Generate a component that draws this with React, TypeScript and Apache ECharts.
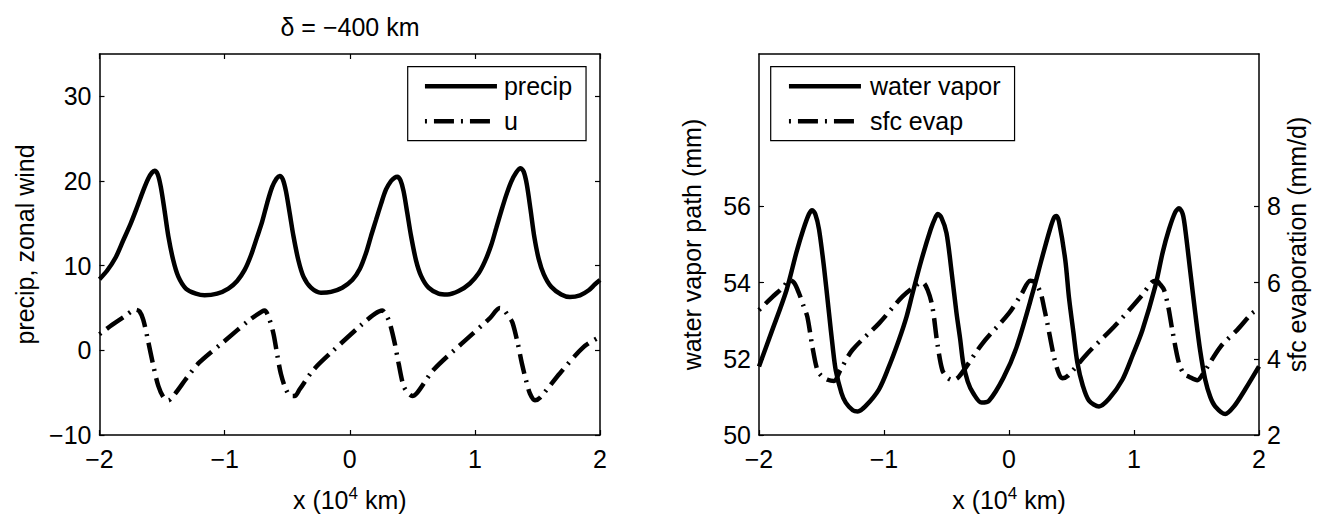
import React, { useEffect, useRef } from "react";
import * as echarts from "echarts";

const FONT = "'Liberation Sans', Arial, Helvetica, sans-serif";

const titleText = "δ = −400 km";
const xTicks = [-2, -1, 0, 1, 2];
const leftYTicks = [-10, 0, 10, 20, 30];
const vaporTicks = [50, 52, 54, 56];
const evapTicks = [2, 4, 6, 8];

const precip: [number, number][] = [
  [-2.0, 8.4], [-1.94, 9.4], [-1.87, 11.0], [-1.81, 13.0], [-1.75, 15.0], [-1.7, 16.9],
  [-1.65, 18.9], [-1.61, 20.3], [-1.58, 21.0], [-1.56, 21.2], [-1.535, 20.8], [-1.51, 19.3],
  [-1.48, 16.5], [-1.45, 13.5], [-1.41, 10.6], [-1.37, 8.7], [-1.31, 7.3], [-1.23, 6.7],
  [-1.16, 6.5], [-1.06, 6.7], [-0.97, 7.3], [-0.9, 8.2], [-0.84, 9.5], [-0.79, 11.2],
  [-0.74, 13.4], [-0.7, 15.2], [-0.66, 17.4], [-0.62, 19.3], [-0.585, 20.3], [-0.56, 20.6],
  [-0.535, 20.2], [-0.51, 18.8], [-0.48, 16.2], [-0.45, 13.5], [-0.41, 10.6], [-0.37, 8.7],
  [-0.31, 7.4], [-0.23, 6.8], [-0.15, 6.9], [-0.06, 7.4], [0.02, 8.3], [0.08, 9.6],
  [0.13, 11.5], [0.17, 13.5], [0.21, 15.4], [0.25, 17.3], [0.29, 19.0], [0.33, 20.0],
  [0.36, 20.4], [0.38, 20.5], [0.405, 20.1], [0.43, 18.8], [0.46, 16.2], [0.49, 13.5],
  [0.53, 10.6], [0.57, 8.8], [0.63, 7.4], [0.71, 6.7], [0.78, 6.6], [0.87, 7.0],
  [0.96, 7.9], [1.03, 9.1], [1.08, 10.5], [1.13, 12.4], [1.17, 14.4], [1.21, 16.4],
  [1.25, 18.3], [1.29, 19.9], [1.33, 21.0], [1.365, 21.5], [1.39, 21.1], [1.415, 19.6],
  [1.445, 16.6], [1.475, 13.4], [1.51, 10.8], [1.55, 9.0], [1.61, 7.5], [1.69, 6.6],
  [1.76, 6.3], [1.84, 6.5], [1.91, 7.1], [1.96, 7.8], [2.0, 8.3],
];

const zonalWind: [number, number][] = [
  [-2.0, 1.9], [-1.9, 3.0], [-1.8, 4.0], [-1.71, 4.8], [-1.68, 4.6], [-1.65, 3.6],
  [-1.61, 1.0], [-1.57, -1.8], [-1.53, -4.2], [-1.49, -5.5], [-1.45, -5.9], [-1.4, -5.2],
  [-1.3, -3.2], [-1.2, -1.4], [-1.0, 1.1], [-0.8, 3.6], [-0.7, 4.6], [-0.68, 4.7],
  [-0.65, 4.0], [-0.61, 2.0], [-0.58, -0.5], [-0.55, -2.8], [-0.51, -4.6], [-0.47, -5.4],
  [-0.44, -5.4], [-0.4, -4.6], [-0.29, -2.3], [-0.13, 0.0], [0.1, 3.1], [0.2, 4.3],
  [0.26, 4.7], [0.29, 4.2], [0.32, 3.2], [0.36, 0.8], [0.39, -1.5], [0.43, -4.2],
  [0.47, -5.1], [0.5, -5.4], [0.54, -5.0], [0.67, -2.3], [0.91, 1.0], [1.12, 3.8],
  [1.2, 5.0], [1.23, 4.8], [1.27, 4.0], [1.3, 3.3], [1.34, 1.0], [1.375, -1.5],
  [1.41, -3.6], [1.44, -5.1], [1.48, -5.9], [1.52, -5.6], [1.68, -2.7], [1.87, 0.4],
  [2.0, 1.6],
];

const waterVapor: [number, number][] = [
  [-2.0, 51.8], [-1.9, 52.7], [-1.78, 53.8], [-1.7, 54.8], [-1.645, 55.4], [-1.6, 55.8],
  [-1.575, 55.9], [-1.55, 55.8], [-1.52, 55.4], [-1.48, 54.4], [-1.44, 53.2], [-1.41, 52.3],
  [-1.386, 51.7], [-1.34, 51.1], [-1.306, 50.85], [-1.25, 50.65], [-1.21, 50.62], [-1.15, 50.75],
  [-1.04, 51.2], [-0.96, 51.8], [-0.88, 52.5], [-0.82, 53.1], [-0.773, 53.7], [-0.7, 54.6],
  [-0.626, 55.4], [-0.59, 55.7], [-0.57, 55.8], [-0.54, 55.7], [-0.5, 55.3], [-0.46, 54.3],
  [-0.42, 53.2], [-0.39, 52.5], [-0.367, 51.9], [-0.33, 51.4], [-0.287, 51.1], [-0.22, 50.85],
  [-0.16, 50.9], [-0.045, 51.5], [0.06, 52.3], [0.195, 53.8], [0.26, 54.6], [0.328, 55.4],
  [0.36, 55.7], [0.38, 55.75], [0.4, 55.6], [0.45, 54.6], [0.48, 53.6], [0.515, 52.7],
  [0.547, 51.9], [0.59, 51.3], [0.64, 50.9], [0.72, 50.75], [0.8, 50.95], [0.907, 51.45],
  [0.99, 52.1], [1.067, 52.75], [1.17, 53.9], [1.23, 54.8], [1.28, 55.4], [1.33, 55.85],
  [1.36, 55.95], [1.39, 55.8], [1.41, 55.4], [1.45, 54.3], [1.49, 53.2], [1.53, 52.2],
  [1.57, 51.45], [1.61, 51.0], [1.65, 50.75], [1.73, 50.55], [1.8, 50.75], [1.89, 51.2],
  [2.0, 51.8],
];

const sfcEvap: [number, number][] = [
  [-2.0, 5.28], [-1.9, 5.6], [-1.8, 5.9], [-1.76, 6.07], [-1.72, 6.0], [-1.68, 5.72],
  [-1.64, 5.35], [-1.613, 5.1], [-1.573, 4.32], [-1.533, 3.7], [-1.5, 3.55], [-1.45, 3.45],
  [-1.4, 3.42], [-1.35, 3.7], [-1.253, 4.23], [-1.04, 4.93], [-0.853, 5.63], [-0.72, 5.98],
  [-0.69, 6.0], [-0.65, 5.8], [-0.613, 5.37], [-0.573, 4.4], [-0.533, 3.7], [-0.49, 3.5],
  [-0.45, 3.44], [-0.4, 3.53], [-0.213, 4.4], [0.0, 5.2], [0.1, 5.7], [0.17, 6.05],
  [0.21, 6.0], [0.254, 5.72], [0.28, 5.35], [0.307, 4.93], [0.36, 4.05], [0.4, 3.6],
  [0.427, 3.49], [0.47, 3.55], [0.627, 4.14], [0.84, 4.84], [1.054, 5.63], [1.146, 6.02],
  [1.18, 6.05], [1.21, 5.95], [1.24, 5.81], [1.275, 5.35], [1.306, 4.76], [1.36, 3.88],
  [1.4, 3.6], [1.44, 3.53], [1.506, 3.44], [1.56, 3.65], [1.693, 4.32], [1.826, 4.76],
  [1.946, 5.2], [2.0, 5.3],
];

const BLACK = "#000";
const LW = 4.5;
const DASHDOT = [20, 7, 2, 7];

const fmt = (v: number) => String(v).replace("-", "\u2212");

const axisLineStyle = { show: true, onZero: false, lineStyle: { color: BLACK, width: 1.5 } };
const tickStyle = (vals: number[] | undefined, show = true) => ({
  show,
  inside: true,
  length: 5,
  lineStyle: { color: BLACK, width: 1.2 },
  ...(vals ? { customValues: vals } : {}),
});
const labelStyle = (vals: number[] | undefined, margin: number, show = true) => ({
  show,
  fontSize: 25,
  color: BLACK,
  fontFamily: FONT,
  margin,
  formatter: fmt,
  ...(vals ? { customValues: vals } : {}),
});

const xName = "{n|x (10}{s|4}{n| km)}";
const xNameStyle = {
  fontSize: 25,
  color: BLACK,
  fontFamily: FONT,
  rich: {
    n: { fontSize: 25, color: BLACK, fontFamily: FONT, lineHeight: 30 },
    s: { fontSize: 17, color: BLACK, fontFamily: FONT, verticalAlign: "top", lineHeight: 22 },
  },
};
const yNameStyle = { fontSize: 25, color: BLACK, fontFamily: FONT };

const legendBase = {
  orient: "vertical",
  itemWidth: 72,
  itemHeight: 20,
  itemGap: 10,
  borderColor: BLACK,
  borderWidth: 1.2,
  borderRadius: 0,
  backgroundColor: "#fff",
  selectedMode: false,
  lineStyle: { width: LW },
  itemStyle: { opacity: 0 },
};

export default function App() {
  const ref = useRef<HTMLDivElement>(null);
  useEffect(() => {
    if (!ref.current) return;
    const chart = echarts.init(ref.current, null, { renderer: "svg" });
    const option: any = {
      animation: false,
      backgroundColor: "#fff",
      textStyle: { fontFamily: FONT, color: BLACK },
      title: {
        text: titleText,
        left: 350,
        top: 14,
        padding: 0,
        textAlign: "center",
        textStyle: { fontSize: 25, fontWeight: "normal", color: BLACK, fontFamily: FONT },
      },
      legend: [
        {
          ...legendBase,
          data: ["precip", "u"],
          left: 407.7,
          top: 66.7,
          padding: [7, 14, 7, 15],
          textStyle: { fontSize: 25, color: BLACK, fontFamily: FONT, padding: [0, 0, 0, 2] },
        },
        {
          ...legendBase,
          data: ["water vapor", "sfc evap"],
          left: 770.7,
          top: 66.7,
          padding: [7, 14, 7, 16],
          textStyle: { fontSize: 25, color: BLACK, fontFamily: FONT, padding: [0, 0, 0, 4] },
        },
      ],
      grid: [
        { left: 99.5, top: 54, width: 500.5, height: 381 },
        { left: 759, top: 54, width: 500, height: 381 },
      ],
      xAxis: [
        {
          gridIndex: 0, type: "value", min: -2, max: 2, interval: 1, position: "bottom",
          axisLine: axisLineStyle, axisTick: tickStyle(xTicks), axisLabel: labelStyle(xTicks, 11),
          splitLine: { show: false },
          name: xName, nameLocation: "middle", nameGap: 50, nameTextStyle: xNameStyle,
        },
        {
          gridIndex: 0, type: "value", min: -2, max: 2, interval: 1, position: "top",
          axisLine: axisLineStyle, axisTick: tickStyle(xTicks), axisLabel: { show: false },
          splitLine: { show: false },
        },
        {
          gridIndex: 1, type: "value", min: -2, max: 2, interval: 1, position: "bottom",
          axisLine: axisLineStyle, axisTick: tickStyle(xTicks), axisLabel: labelStyle(xTicks, 11),
          splitLine: { show: false },
          name: xName, nameLocation: "middle", nameGap: 50, nameTextStyle: xNameStyle,
        },
        {
          gridIndex: 1, type: "value", min: -2, max: 2, interval: 1, position: "top",
          axisLine: axisLineStyle, axisTick: { show: false }, axisLabel: { show: false },
          splitLine: { show: false },
        },
      ],
      yAxis: [
        {
          gridIndex: 0, type: "value", min: -10, max: 35, position: "left",
          axisLine: axisLineStyle, axisTick: tickStyle(leftYTicks), axisLabel: labelStyle(leftYTicks, 8),
          splitLine: { show: false },
          name: "precip, zonal wind", nameLocation: "middle", nameGap: 62, nameTextStyle: yNameStyle,
        },
        {
          gridIndex: 0, type: "value", min: -10, max: 35, position: "right",
          axisLine: axisLineStyle, axisTick: tickStyle(leftYTicks), axisLabel: { show: false },
          splitLine: { show: false },
        },
        {
          gridIndex: 1, type: "value", min: 50, max: 60, position: "left",
          axisLine: axisLineStyle, axisTick: tickStyle(vaporTicks), axisLabel: labelStyle(vaporTicks, 8),
          splitLine: { show: false },
          name: "water vapor path (mm)", nameLocation: "middle", nameGap: 55, nameTextStyle: yNameStyle,
        },
        {
          gridIndex: 1, type: "value", min: 2, max: 12, position: "right",
          axisLine: axisLineStyle, axisTick: tickStyle(evapTicks), axisLabel: labelStyle(evapTicks, 8),
          splitLine: { show: false },
          name: "sfc evaporation (mm/d)", nameLocation: "middle", nameGap: 25, nameTextStyle: yNameStyle,
        },
      ],
      series: [
        {
          name: "precip", type: "line", xAxisIndex: 0, yAxisIndex: 0, data: precip,
          symbol: "none", smooth: 0.3, color: BLACK,
          lineStyle: { color: BLACK, width: LW },
        },
        {
          name: "u", type: "line", xAxisIndex: 0, yAxisIndex: 0, data: zonalWind,
          symbol: "none", smooth: 0.3, color: BLACK,
          lineStyle: { color: BLACK, width: LW, type: DASHDOT, dashOffset: 27 },
        },
        {
          name: "water vapor", type: "line", xAxisIndex: 2, yAxisIndex: 2, data: waterVapor,
          symbol: "none", smooth: 0.3, color: BLACK,
          lineStyle: { color: BLACK, width: LW },
        },
        {
          name: "sfc evap", type: "line", xAxisIndex: 2, yAxisIndex: 3, data: sfcEvap,
          symbol: "none", smooth: 0.3, color: BLACK,
          lineStyle: { color: BLACK, width: LW, type: DASHDOT, dashOffset: 27 },
        },
      ],
    };
    chart.setOption(option);
    return () => chart.dispose();
  }, []);
  return (
    <div
      ref={ref}
      style={{ position: "absolute", left: 0, top: 0, width: 1338, height: 519 }}
    />
  );
}
